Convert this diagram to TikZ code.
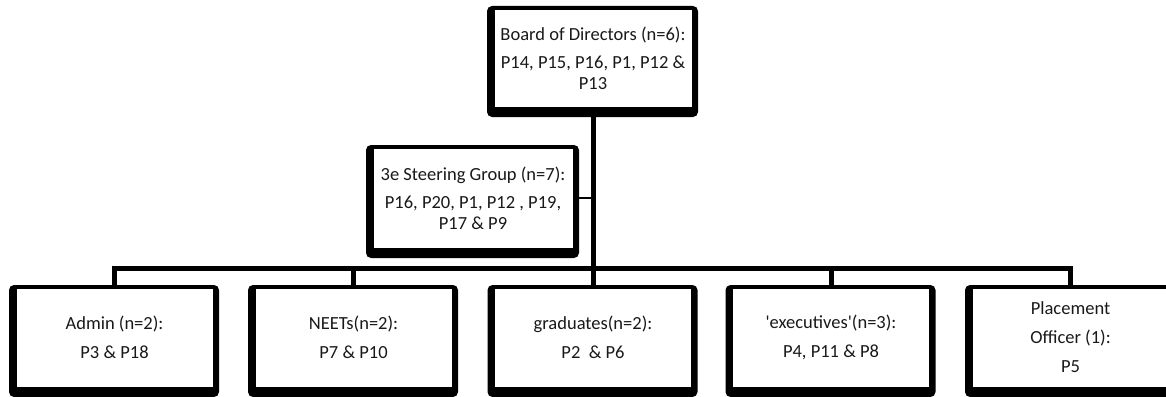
\documentclass[tikz,border=0pt]{standalone}
\usepackage{fontspec}
\setmainfont{Carlito}[Ligatures=TeXOff]
\usetikzlibrary{backgrounds}
\tikzset{
  orgbox/.style={draw=black, line width=0.8pt, fill=white, inner sep=0pt, outer sep=0pt,
    align=center, text=black!90, font=\fontsize{18.5}{21}\selectfont},
  bottombox/.style={orgbox, minimum width=197pt, minimum height=99pt},
  shadowfill/.style={fill=black, rounded corners=5pt},
  conn/.style={draw=black, line width=5pt},
  thinconn/.style={draw=black, line width=2.5pt}
}
\begin{document}
\begin{tikzpicture}[x=1pt,y=-1pt]
\useasboundingbox (0,0) rectangle (1166,396);
\node[orgbox, minimum width=198pt, minimum height=98pt] (board) at (593,58)
  {Board of Directors (n=6):\\[7pt] P14, P15, P16, P1, P12 \&\\ P13};
\node[orgbox, minimum width=200pt, minimum height=100pt] (steer) at (473,198)
  {3e Steering Group (n=7):\\[7pt] P16, P20, P1, P12 , P19,\\ P17 \& P9};
\node[bottombox] (admin) at (114.5,337.5) {Admin (n=2):\\[8pt] P3 \& P18};
\node[bottombox] (neets) at (353.5,337.5) {NEETs(n=2):\\[8pt] P7 \& P10};
\node[bottombox] (grad) at (593,337.5) {graduates(n=2):\\[8pt] P2\ \ \& P6};
\node[bottombox] (exec) at (831,337.5) {'executives'(n=3):\\[8pt] P4, P11 \& P8};
\node[bottombox] (place) at (1070.5,337.5) {Placement\\[8pt] Officer (1):\\[8pt] P5};
\begin{scope}[on background layer]
  \foreach \n in {board,steer,admin,neets,grad,exec,place}
    \fill[shadowfill] ([shift={(-7,10)}]\n.south west) rectangle ([shift={(6,-3)}]\n.north east);
\end{scope}
\coordinate (bar) at (0,268);
\draw[conn] (board.south) -- (board.south |- bar);
\draw[conn, line join=miter] (admin.north) |- (place.north |- bar) -- (place.north);
\draw[conn] (neets.north) -- (neets.north |- bar);
\draw[conn] (grad.north) -- (grad.north |- bar);
\draw[conn] (exec.north) -- (exec.north |- bar);
\draw[thinconn] (steer.east) -- (steer.east -| board.south);
\end{tikzpicture}
\end{document}
